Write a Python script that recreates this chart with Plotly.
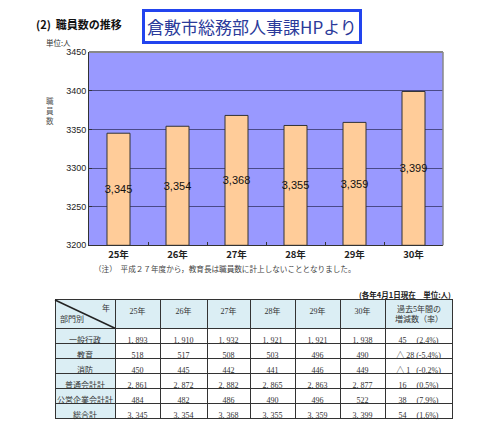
import plotly.graph_objects as go

# ---- data ----
years = ["25年", "26年", "27年", "28年", "29年", "30年"]
totals = [3345, 3354, 3368, 3355, 3359, 3399]
departments = ["一般行政", "教育", "消防", "普通会計計", "公営企業会計計", "総合計"]
general = [1893, 1910, 1932, 1921, 1921, 1938]
education = [518, 517, 508, 503, 496, 490]
fire = [450, 445, 442, 441, 446, 449]
ordinary = [2861, 2872, 2882, 2865, 2863, 2877]
enterprise = [484, 482, 486, 490, 496, 522]
change = ["45", "△ 28", "△ 1", "16", "38", "54"]
rate = ["(2.4%)", "(-5.4%)", "(-0.2%)", "(0.5%)", "(7.9%)", "(1.6%)"]
y_min, y_max = 3200, 3450
y_ticks = [3200, 3250, 3300, 3350, 3400, 3450]

# page body has an 8px margin; lay the figure out in window coordinates
OFF = 8
W, H = 480 - OFF, 426 - OFF
def px(x): return (x - OFF) / W
def py(y): return 1 - (y - OFF) / H

JP = "Noto Sans CJK JP"
SERIF = "Liberation Serif, Noto Sans CJK JP"
NB = "\u00a0"

fig = go.Figure()
fig.add_trace(go.Bar(
    x=years, y=[t - y_min for t in totals], base=y_min, width=0.39,
    customdata=totals,
    marker=dict(color="#ffcc99", line=dict(color="#333333", width=1)),
    texttemplate="%{customdata:,}", textposition="inside", insidetextanchor="middle",
    textangle=0, textfont=dict(family="Liberation Sans, Arial", size=11, color="#111111"),
    showlegend=False,
))

# table
rows_by_year = list(zip(general, education, fire, ordinary, enterprise, totals))
def fmt(v): return f"{v:,}".replace(",", "," + NB)
columns = [departments]
for i in range(len(years)):
    columns.append([fmt(v) for v in rows_by_year[i]])
def chg(c, r):
    pad = NB * max(1, 9 - 2 * len(c))
    return c.replace(" ", NB) + pad + r
columns.append([chg(c, r) for c, r in zip(change, rate)])

header_vals = [""] + years + [""]
light = "#dbeef4"
fig.add_trace(go.Table(
    domain=dict(x=[px(55), px(452)], y=[0, py(302)]),
    columnwidth=[60, 45, 47, 43, 45, 45, 45, 67],
    header=dict(values=header_vals, height=29, fill_color=light,
                line=dict(color="#333333", width=1), align="center",
                font=dict(family=SERIF, size=8, color="#333333")),
    cells=dict(values=columns, height=15,
               fill_color=[[light] * 6] + [["white"] * 6] * 7,
               line=dict(color="#333333", width=1), align="center",
               font=dict(family=SERIF, size=8, color="#333333")),
))

fig.update_layout(
    width=W, height=H, margin=dict(l=0, r=0, t=0, b=0),
    paper_bgcolor="white", plot_bgcolor="#9999ff",
    uniformtext=dict(minsize=11, mode="show"),
    xaxis=dict(domain=[px(89), px(443)], showline=True, linecolor="#333333", linewidth=1,
               ticks="inside", tickson="boundaries", ticklen=3, tickcolor="#333333",
               tickfont=dict(family=JP, size=9.5, color="#222222"),
               tickprefix="<b>", ticksuffix="</b>", fixedrange=True),
    yaxis=dict(domain=[py(246), py(48)], range=[y_min, y_max], tickvals=y_ticks,
               showgrid=True, gridcolor="#4a4a88", gridwidth=1,
               showline=True, linecolor="#333333", linewidth=1,
               ticks="inside", ticklen=3, tickcolor="#333333",
               tickfont=dict(family="Liberation Sans, Arial", size=9, color="#222222"),
               fixedrange=True),
    shapes=[
        dict(type="line", xref="paper", yref="paper", x0=px(89), x1=px(443), y0=py(48), y1=py(48),
             line=dict(color="#888888", width=2)),
        dict(type="line", xref="paper", yref="paper", x0=px(443), x1=px(443), y0=py(48), y1=py(246),
             line=dict(color="#888888", width=1.5)),
        dict(type="line", xref="paper", yref="paper", x0=px(55), x1=px(115), y0=py(302), y1=py(331),
             line=dict(color="#222222", width=1.5)),
    ],
    annotations=[
        dict(text="<b>(2)  職員数の推移</b>", x=px(34), y=py(19), xref="paper", yref="paper",
             xanchor="left", yanchor="middle", showarrow=False,
             font=dict(family=JP, size=11, color="#111111")),
        dict(text="倉敷市総務部人事課HPより", x=px(251.5), y=py(21.5), xref="paper", yref="paper",
             xanchor="center", yanchor="middle", showarrow=False,
             bgcolor="white", bordercolor="#2244ee", borderwidth=3, borderpad=2,
             font=dict(family=JP, size=17, color="#2a3a9a")),
        dict(text="単位:人", x=px(44), y=py(38), xref="paper", yref="paper",
             xanchor="left", yanchor="middle", showarrow=False,
             font=dict(family=JP, size=7.5, color="#333333")),
        dict(text="職<br>員<br>数", x=px(50), y=py(108), xref="paper", yref="paper",
             xanchor="center", yanchor="middle", showarrow=False,
             font=dict(family=JP, size=7.5, color="#555555")),
        dict(text="（注）　平成２７年度から，教育長は職員数に計上しないこととなりました。",
             x=px(92), y=py(270), xref="paper", yref="paper",
             xanchor="left", yanchor="middle", showarrow=False,
             font=dict(family=JP, size=7.6, color="#444444")),
        dict(text="<b>(各年4月1日現在　単位:人)</b>", x=px(453), y=py(296), xref="paper", yref="paper",
             xanchor="right", yanchor="middle", showarrow=False,
             font=dict(family=JP, size=7.5, color="#222222")),
        dict(text="過去5年間の<br>増減数（率）", x=px(418.5), y=py(316.5), xref="paper", yref="paper",
             xanchor="center", yanchor="middle", showarrow=False,
             font=dict(family=SERIF, size=8, color="#333333")),
        dict(text="年", x=px(112), y=py(310), xref="paper", yref="paper",
             xanchor="right", yanchor="middle", showarrow=False,
             font=dict(family=SERIF, size=8, color="#333333")),
        dict(text="部門別", x=px(58), y=py(322), xref="paper", yref="paper",
             xanchor="left", yanchor="middle", showarrow=False,
             font=dict(family=SERIF, size=8, color="#333333")),
    ],
)
fig.write_html("out.html")
